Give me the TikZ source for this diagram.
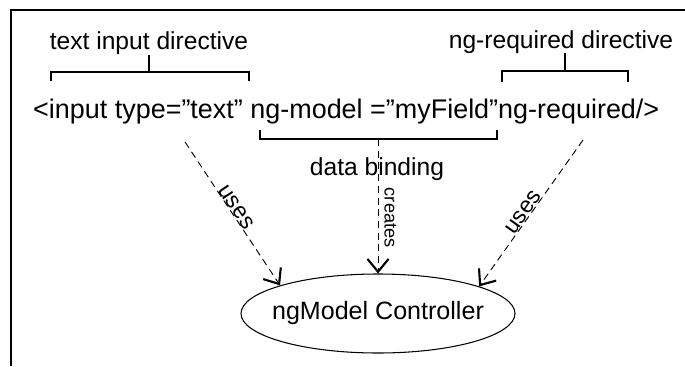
\documentclass[tikz,border=0pt]{standalone}
\usepackage{fontspec}
\setmainfont{Liberation Sans}
\usetikzlibrary{arrows.meta, shapes.geometric, positioning, calc}

\begin{document}
\begin{tikzpicture}[x=0.03cm, y=-0.03cm, every node/.style={inner sep=0pt},
    lbl/.style={font=\fontsize{21}{25}\selectfont, anchor=base},
    brk/.style={line width=1pt},
    dep/.style={dash pattern=on 6pt off 4pt, line width=0.8pt, -{Straight Barb[length=11pt, width=18pt, line width=1.8pt]}},
    tag/.style={font=\fontsize{19.5}{22}\selectfont}]
        \useasboundingbox (0,0) rectangle (685,366);
        \draw[line width=1.2pt] (11,366) -- (11,10) -- (685,10);
        \node[lbl] (tid) at (149,50) {text input directive};
        \node[lbl] (nrd) at (561,49) {ng-required directive};
        \node[lbl, font=\fontsize{23}{27}\selectfont, anchor=base west] (src) at (33,118) {<input type=”text” ng-model =”myField”ng-required/>};
        \node[lbl] (bind) at (377,175) {data binding};
        \node[draw, ellipse, line width=0.9pt, minimum width=8.22cm, minimum height=2.37cm, inner xsep=-1cm, font=\fontsize{21.4}{25}\selectfont] (ctrl) at (378,313.5) {ngModel Controller};
        \draw[brk] (51,81) -- (51,72) -- (249,72) -- (249,81) (149,72) -- (tid.south);
        \draw[brk] (502,82) -- (502,71) -- (628,71) -- (628,82) (565,71) -- (565,53);
        \draw[brk] (260,130) -- (260,139) -- (497,139) -- (497,130);
        \coordinate (ul) at (185,142);
        \coordinate (ur) at (583,140);
        \coordinate (db) at (378,139);
        \draw[dep] (ul) -- node[tag, sloped, above, pos=0.48] (u1) {uses} (ctrl.164);
        \draw[dep] (ur) -- node[tag, sloped, above, pos=0.52] (u2) {uses} (ctrl.15);
        \draw[dep] (db) -- node[tag, font=\fontsize{15.5}{18}\selectfont, rotate=-90, anchor=south, inner sep=5pt, pos=0.585] (cr) {creates} (ctrl.north);
      \end{tikzpicture}
\end{document}
